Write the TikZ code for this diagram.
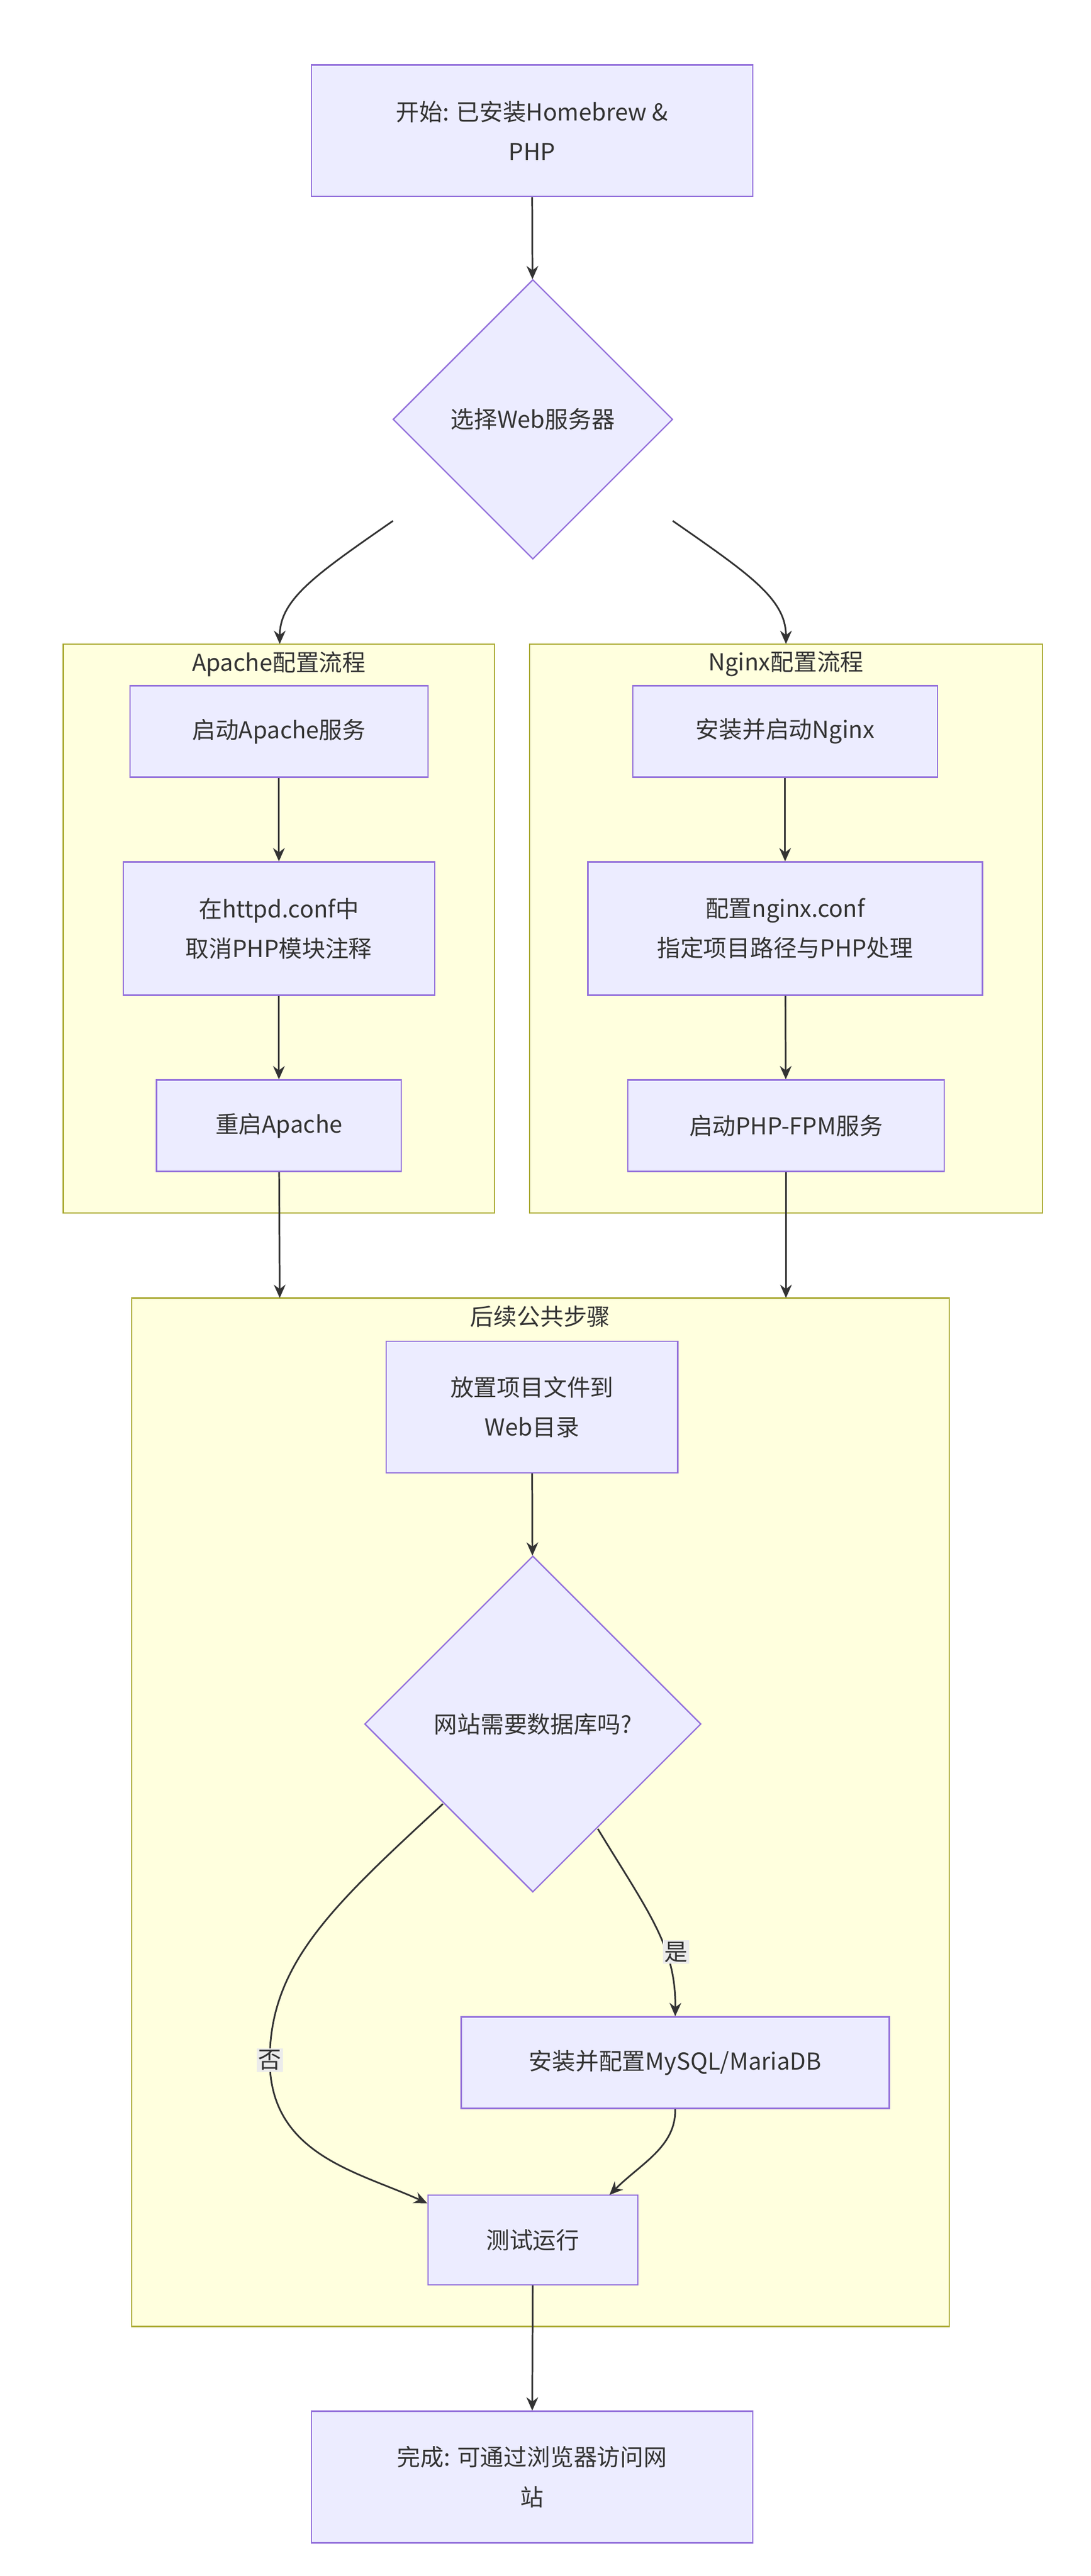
\documentclass[tikz,border=0pt]{standalone}
\usepackage{fontspec}
\setmainfont{Noto Sans CJK SC}
\usetikzlibrary{shapes.geometric,arrows.meta}
\definecolor{nfill}{HTML}{ECECFF}\definecolor{nline}{HTML}{9370DB}
\definecolor{cfill}{HTML}{FFFFDE}\definecolor{cline}{HTML}{AAAA33}
\definecolor{eline}{HTML}{333333}
\begin{document}
\begin{tikzpicture}[x=1pt,y=-1pt,
 box/.style={draw=nline,fill=nfill,line width=0.8pt,inner sep=0,align=center,font=\fontsize{14}{24}\selectfont,text=eline},
 dia/.style={box,shape=diamond,aspect=1},
 clu/.style={draw=cline,fill=cfill,line width=0.8pt},
 ttl/.style={font=\fontsize{14}{18}\selectfont,text=eline},
 lab/.style={fill=black!8,inner sep=1pt,font=\fontsize{14}{18}\selectfont,text=eline},
 arr/.style={draw=eline,line width=1pt,-{Stealth[length=8pt,width=7pt]}}]
\useasboundingbox (0,0) rectangle (655,1548);
\fill[white] (0,0) rectangle (655,1548);
\draw[clu] (38,387) rectangle (297,729);
\node[ttl] (ta) at (167.5,399) {Apache配置流程};
\draw[clu] (318,387) rectangle (626,729);
\node[ttl] (tn) at (472,399) {Nginx配置流程};
\draw[clu] (79,780) rectangle (570,1398);
\node[ttl] (tc) at (324.5,791) {后续公共步骤};
\coordinate (ca) at (168,780); \coordinate (cn) at (472,780);
\coordinate (pa) at (168,387); \coordinate (pn) at (472,387);
\node[box,minimum width=265,minimum height=79] (s) at (319.5,78.5) {开始: 已安装Homebrew \&\\PHP};
\node[dia,minimum width=168,minimum height=168] (d1) at (320,252) {选择Web服务器};
\node[box,minimum width=179,minimum height=55] (a1) at (167.5,439.5) {启动Apache服务};
\node[box,minimum width=187,minimum height=80] (a2) at (167.5,558) {在httpd.conf中\\取消PHP模块注释};
\node[box,minimum width=147,minimum height=55] (a3) at (167.5,676.5) {重启Apache};
\node[box,minimum width=183,minimum height=55] (n1) at (471.5,439.5) {安装并启动Nginx};
\node[box,minimum width=237,minimum height=80] (n2) at (471.5,558) {配置nginx.conf\\指定项目路径与PHP处理};
\node[box,minimum width=190,minimum height=55] (n3) at (472,676.5) {启动PHP-FPM服务};
\node[box,minimum width=175,minimum height=79] (c1) at (319.5,845.5) {放置项目文件到\\Web目录};
\node[dia,minimum width=202,minimum height=202] (d2) at (320,1036) {网站需要数据库吗?};
\node[box,minimum width=257,minimum height=55] (m) at (405.5,1239.5) {安装并配置MySQL/MariaDB};
\node[box,minimum width=126,minimum height=54] (t) at (320,1346) {测试运行};
\node[box,minimum width=265,minimum height=79] (e) at (319.5,1488.5) {完成: 可通过浏览器访问网\\站};
\coordinate (dl) at (236,313); \coordinate (dr) at (404,313);
\coordinate (ql) at (266,1084); \coordinate (qr) at (359,1099);
\draw[arr] (s) -- (d1);
\draw[arr] (dl) .. controls (190,345) and (168,360) .. (pa);
\draw[arr] (dr) .. controls (450,345) and (472,360) .. (pn);
\draw[arr] (a1) -- (a2); \draw[arr] (a2) -- (a3);
\draw[arr] (n1) -- (n2); \draw[arr] (n2) -- (n3);
\draw[arr] (a3) -- (ca); \draw[arr] (n3) -- (cn);
\draw[arr] (c1) -- (d2);
\draw[arr] (qr) .. controls (390,1150) and (406,1170) .. (m.north);
\node[lab] (ly) at (406,1173) {是};
\draw[arr] (ql) .. controls (200,1145) and (162,1180) .. (162,1238) .. controls (162,1295) and (215,1305) .. (t.west|-0,1324);
\node[lab] (ln) at (162,1238) {否};
\draw[arr] (m.south) .. controls (406,1290) and (385,1300) .. (366,1319);
\draw[arr] (t) -- (e);
\end{tikzpicture}
\end{document}
